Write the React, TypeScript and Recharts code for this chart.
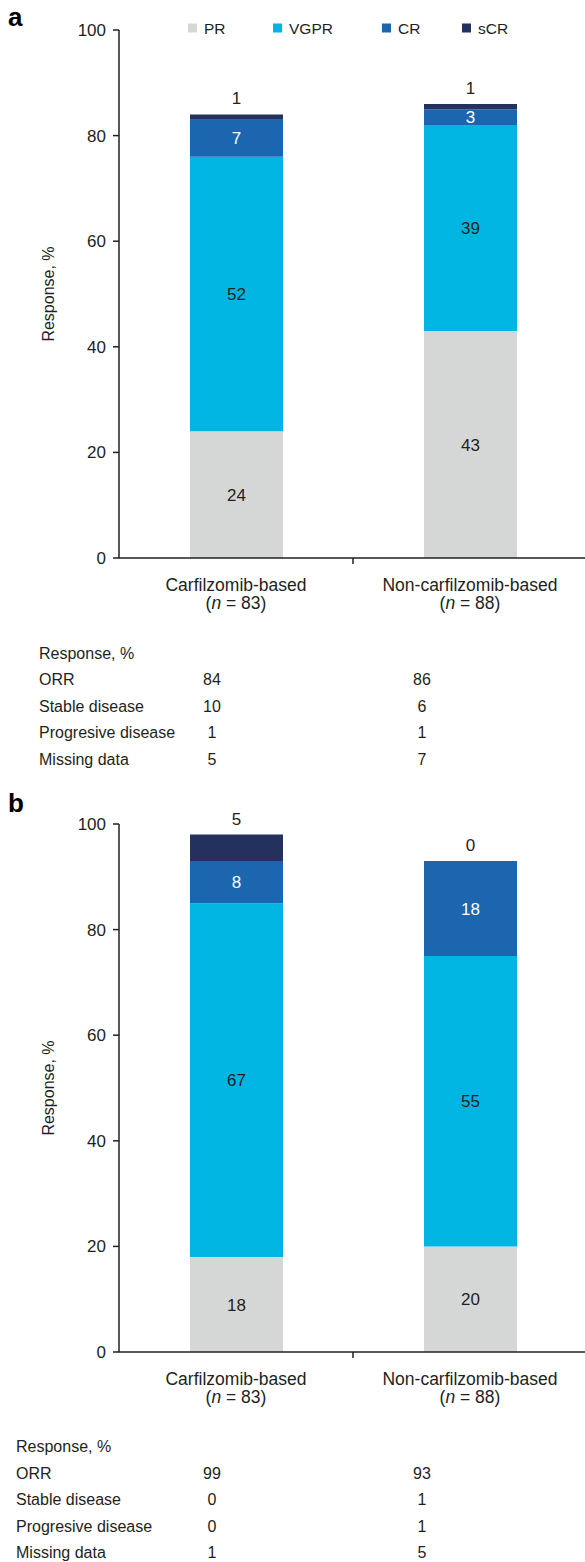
import React from 'react';
import { BarChart, Bar, XAxis, YAxis, LabelList, Label } from 'recharts';

// ---------- data ----------
const categories = ['Carfilzomib-based', 'Non-carfilzomib-based'];
const groupSizes = [83, 88];

const seriesNames = ['PR', 'VGPR', 'CR', 'sCR'];
const seriesColors = ['#d5d7d6', '#00b5e2', '#1c66b0', '#24305e'];
const seriesLabelColors = ['#231f20', '#231f20', '#ffffff', '#231f20'];

// panel a
const panelA_PR = [24, 43];
const panelA_VGPR = [52, 39];
const panelA_CR = [7, 3];
const panelA_sCR = [1, 1];

// panel b
const panelB_PR = [18, 20];
const panelB_VGPR = [67, 55];
const panelB_CR = [8, 18];
const panelB_sCR = [5, 0];

const yTicks = [0, 20, 40, 60, 80, 100];

const tableTitle = 'Response, %';
const tableRowLabels = ['ORR', 'Stable disease', 'Progresive disease', 'Missing data'];
const panelA_table = [
  [84, 86],
  [10, 6],
  [1, 1],
  [5, 7],
];
const panelB_table = [
  [99, 93],
  [0, 1],
  [0, 1],
  [1, 5],
];

// ---------- styling ----------
const FONT = '"Liberation Sans", Arial, Helvetica, sans-serif';
const INK = '#231f20';
const CHART_W = 587;
const CHART_H = 620;
const PLOT_TOP = 30;
const X_AXIS_H = 62;
const Y_AXIS_W = 119;

function buildData(pr: number[], vgpr: number[], cr: number[], scr: number[]) {
  return categories.map((name, i) => ({
    name,
    PR: pr[i],
    VGPR: vgpr[i],
    CR: cr[i],
    sCR: scr[i],
  }));
}

const dataA = buildData(panelA_PR, panelA_VGPR, panelA_CR, panelA_sCR);
const dataB = buildData(panelB_PR, panelB_VGPR, panelB_CR, panelB_sCR);

const CatTick = (props: any) => {
  const { x, y, payload } = props;
  const idx = categories.indexOf(payload.value);
  const off = payload.offset ?? (CHART_W - Y_AXIS_W) / 4;
  return (
    <g>
      <line x1={x + off} x2={x + off} y1={y} y2={y + 6} stroke={INK} strokeWidth={1.5} />
      <text x={x} y={y + 27} textAnchor="middle" dominantBaseline="central" fontSize={17.5} fill={INK} fontFamily={FONT}>
        {payload.value}
      </text>
      <text x={x} y={y + 45} textAnchor="middle" dominantBaseline="central" fontSize={17.5} fill={INK} fontFamily={FONT}>
        (<tspan fontStyle="italic">n</tspan> = {groupSizes[idx]})
      </text>
    </g>
  );
};

const YLabel = (props: any) => {
  const vb = props.viewBox || { x: 0, y: PLOT_TOP, width: Y_AXIS_W, height: CHART_H - PLOT_TOP - X_AXIS_H };
  const cx = vb.x + 48;
  const cy = vb.y + vb.height / 2;
  return (
    <text
      x={cx}
      y={cy}
      transform={`rotate(-90, ${cx}, ${cy})`}
      textAnchor="middle"
      dominantBaseline="central"
      fontSize={16}
      fill={INK}
      fontFamily={FONT}
    >
      Response, %
    </text>
  );
};

function Panel({ data }: { data: any[] }) {
  return (
    <BarChart
      width={CHART_W}
      height={CHART_H}
      data={data}
      margin={{ top: PLOT_TOP, right: 0, left: 0, bottom: 0 }}
      style={{ fontFamily: FONT }}
    >
      <XAxis
        dataKey="name"
        interval={0}
        height={X_AXIS_H}
        tickLine={false}
        tickSize={0}
        tickMargin={0}
        axisLine={{ stroke: INK, strokeWidth: 1.5 }}
        tick={<CatTick />}
      />
      <YAxis
        type="number"
        domain={[0, 100]}
        ticks={yTicks}
        interval={0}
        width={Y_AXIS_W}
        tickSize={6}
        tickMargin={7}
        axisLine={{ stroke: INK, strokeWidth: 1.5 }}
        tickLine={{ stroke: INK, strokeWidth: 1.5 }}
        tick={{ fontSize: 17, fill: INK, fontFamily: FONT }}
      >
        <Label content={<YLabel />} />
      </YAxis>
      {seriesNames.map((s, i) => {
        const isTop = i === seriesNames.length - 1;
        return (
          <Bar
            key={s}
            dataKey={s}
            stackId="resp"
            fill={seriesColors[i]}
            barSize={93}
            minPointSize={isTop ? 0.01 : 0}
            isAnimationActive={false}
          >
            <LabelList
              dataKey={s}
              position={isTop ? 'top' : 'center'}
              offset={10}
              fill={seriesLabelColors[i]}
              fontSize={17}
              fontFamily={FONT}
            />
          </Bar>
        );
      })}
    </BarChart>
  );
}

const legendX = [188, 273, 382, 462];

function Table({ left, top, values }: { left: number; top: number; values: number[][] }) {
  const rowH = 26.5;
  return (
    <g fontFamily={FONT} fontSize={16} fill={INK}>
      <text x={left} y={top} dominantBaseline="central">{tableTitle}</text>
      {tableRowLabels.map((r, i) => (
        <g key={r}>
          <text x={left} y={top + rowH * (i + 1)} dominantBaseline="central">{r}</text>
          <text x={212} y={top + rowH * (i + 1)} textAnchor="middle" dominantBaseline="central">{values[i][0]}</text>
          <text x={422} y={top + rowH * (i + 1)} textAnchor="middle" dominantBaseline="central">{values[i][1]}</text>
        </g>
      ))}
    </g>
  );
}

export default function App() {
  return (
    <div style={{ position: 'absolute', left: 0, top: 0, width: 585, height: 1562, overflow: 'hidden', background: '#fff', fontFamily: FONT }}>
      <div style={{ position: 'absolute', left: 0, top: 0 }}>
        <Panel data={dataA} />
      </div>
      <div style={{ position: 'absolute', left: 0, top: 794 }}>
        <Panel data={dataB} />
      </div>
      <svg width={585} height={1562} style={{ position: 'absolute', left: 0, top: 0, pointerEvents: 'none' }}>
        <text x={8} y={26} fontSize={26} fontWeight="bold" fill="#000" fontFamily={FONT}>a</text>
        <text x={8} y={812} fontSize={26} fontWeight="bold" fill="#000" fontFamily={FONT}>b</text>
        {seriesNames.map((s, i) => (
          <g key={s}>
            <rect x={legendX[i]} y={23.5} width={9} height={9} fill={seriesColors[i]} />
            <text x={legendX[i] + 16} y={28} dominantBaseline="central" fontSize={15.5} fill={INK} fontFamily={FONT}>
              {s}
            </text>
          </g>
        ))}
        <Table left={39} top={653} values={panelA_table} />
        <Table left={16} top={1446.5} values={panelB_table} />
      </svg>
    </div>
  );
}
